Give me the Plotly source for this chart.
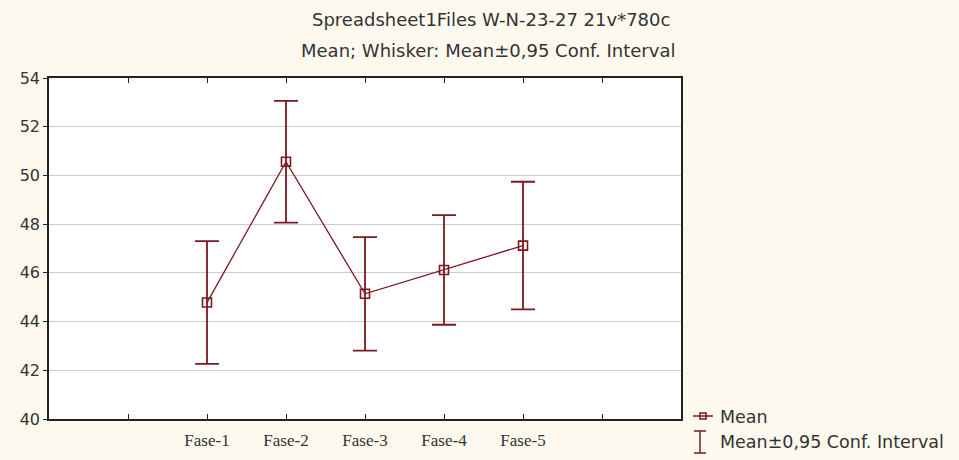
import plotly.graph_objects as go

# Group means and 95% confidence half-widths
phases = ["Fase-1", "Fase-2", "Fase-3", "Fase-4", "Fase-5"]
means = [44.78, 50.56, 45.14, 46.12, 47.12]
ci_half = [2.52, 2.50, 2.33, 2.25, 2.62]

# Category positions on the x scale (outer slots are left empty)
positions = [2, 3, 4, 5, 6]
tick_positions = [1, 2, 3, 4, 5, 6, 7]
tick_labels = [""] + phases + [""]
y_ticks = [40, 42, 44, 46, 48, 50, 52, 54]

DARK_RED = "#7a1a1f"
BG = "#fdf9ee"
TEXT = "#333333"
SANS = "DejaVu Sans, Arial, sans-serif"
SERIF = "Liberation Serif, Times New Roman, serif"

fig = go.Figure()

fig.add_trace(go.Scatter(
    x=positions,
    y=means,
    mode="lines+markers",
    line=dict(color=DARK_RED, width=1.3),
    marker=dict(symbol="square-open", size=9, color=DARK_RED, line=dict(width=1.6, color=DARK_RED)),
    error_y=dict(type="data", array=ci_half, visible=True, color=DARK_RED, thickness=1.8, width=12),
    showlegend=False,
    hoverinfo="x+y",
))

fig.update_layout(
    width=959,
    height=460,
    paper_bgcolor=BG,
    plot_bgcolor="white",
    margin=dict(l=49, r=278, t=78, b=41),
    font=dict(family=SANS, size=16, color=TEXT),
    xaxis=dict(
        range=[0, 8],
        tickmode="array",
        tickvals=tick_positions,
        ticktext=tick_labels,
        ticks="inside",
        ticklen=5,
        tickcolor="#222222",
        showgrid=False,
        zeroline=False,
        showline=True,
        linecolor="#222222",
        linewidth=1.5,
        mirror="ticks",
        automargin=False,
        ticklabelstandoff=5,
        tickfont=dict(family=SERIF, size=17, color=TEXT),
    ),
    yaxis=dict(
        range=[40, 54],
        tickmode="array",
        tickvals=y_ticks,
        ticks="outside",
        ticklen=4,
        tickcolor="#222222",
        showgrid=True,
        gridcolor="#cccccc",
        gridwidth=1,
        zeroline=False,
        showline=True,
        linecolor="#222222",
        linewidth=1.5,
        mirror=True,
        automargin=False,
        tickfont=dict(family=SANS, size=16, color=TEXT),
    ),
)


def px_x(p):
    return (p - 49) / 632


def px_y(p):
    return (419 - p) / 341


# Two-line header
fig.add_annotation(
    text="Spreadsheet1Files W-N-23-27 21v*780c",
    xref="paper", yref="paper", x=px_x(491), y=px_y(20),
    xanchor="center", yanchor="middle", showarrow=False,
    font=dict(family=SANS, size=18, color=TEXT),
)
fig.add_annotation(
    text="Mean; Whisker: Mean±0,95 Conf. Interval",
    xref="paper", yref="paper", x=px_x(488), y=px_y(50),
    xanchor="center", yanchor="middle", showarrow=False,
    font=dict(family=SANS, size=18, color=TEXT),
)

# Legend drawn beside the plot area
leg_y1 = 416
fig.add_shape(type="line", xref="paper", yref="paper",
              x0=px_x(693), x1=px_x(713), y0=px_y(leg_y1), y1=px_y(leg_y1),
              line=dict(color=DARK_RED, width=1.5))
fig.add_shape(type="rect", xref="paper", yref="paper",
              x0=px_x(700), x1=px_x(706), y0=px_y(leg_y1 - 3), y1=px_y(leg_y1 + 3),
              line=dict(color=DARK_RED, width=1.5), fillcolor="rgba(0,0,0,0)")
fig.add_annotation(text="Mean", xref="paper", yref="paper",
                   x=px_x(718), y=px_y(leg_y1 + 1), xanchor="left", yanchor="middle",
                   showarrow=False, font=dict(family=SANS, size=17.5, color=TEXT))

leg_y2 = 442
fig.add_shape(type="line", xref="paper", yref="paper",
              x0=px_x(700), x1=px_x(700), y0=px_y(leg_y2 - 11), y1=px_y(leg_y2 + 11),
              line=dict(color=DARK_RED, width=1.5))
fig.add_shape(type="line", xref="paper", yref="paper",
              x0=px_x(694), x1=px_x(706), y0=px_y(leg_y2 - 11), y1=px_y(leg_y2 - 11),
              line=dict(color=DARK_RED, width=1.5))
fig.add_shape(type="line", xref="paper", yref="paper",
              x0=px_x(694), x1=px_x(706), y0=px_y(leg_y2 + 11), y1=px_y(leg_y2 + 11),
              line=dict(color=DARK_RED, width=1.5))
fig.add_annotation(text="Mean±0,95 Conf. Interval", xref="paper", yref="paper",
                   x=px_x(718), y=px_y(leg_y2), xanchor="left", yanchor="middle",
                   showarrow=False, font=dict(family=SANS, size=17.5, color=TEXT))

fig.write_html("out.html")
